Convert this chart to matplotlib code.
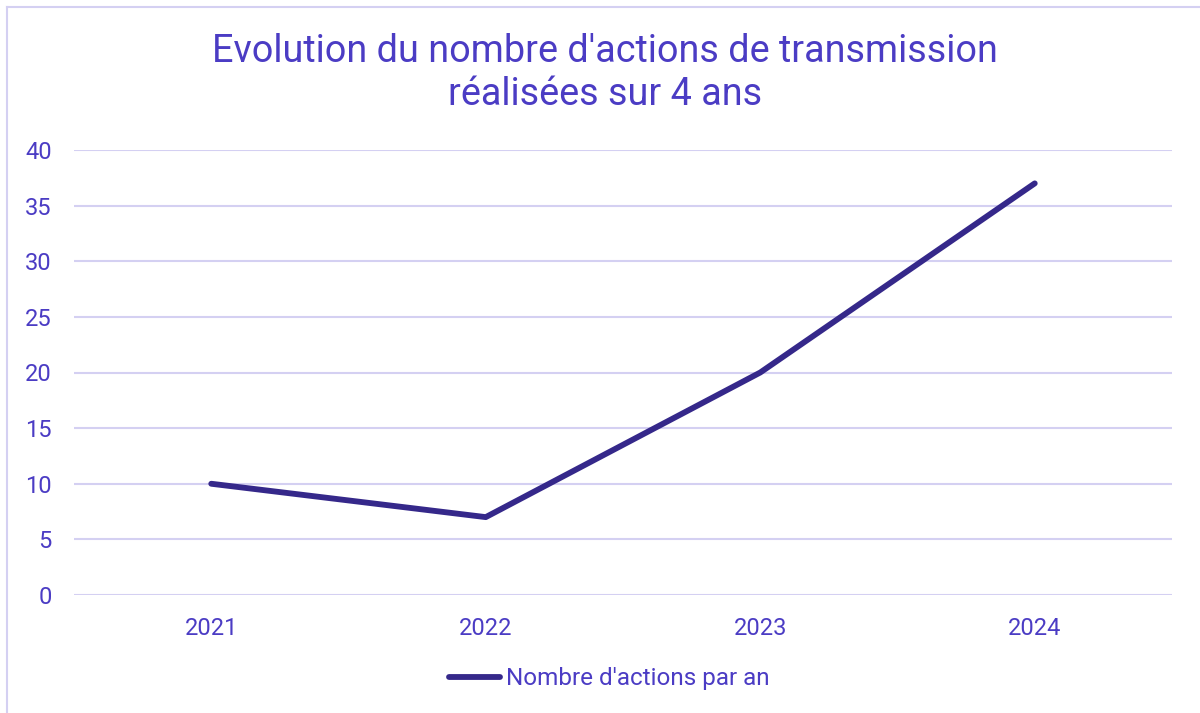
import matplotlib
matplotlib.use("Agg")
import matplotlib.pyplot as plt
from matplotlib.lines import Line2D

years = ["2021", "2022", "2023", "2024"]
actions = [10, 7, 20, 37]
yticks = [0, 5, 10, 15, 20, 25, 30, 35, 40]
title = "Evolution du nombre d'actions de transmission\nréalisées sur 4 ans"
series_name = "Nombre d'actions par an"

text_color = "#4B3CC4"
line_color = "#35288A"
grid_color = "#D4D0F2"

plt.rcParams['font.family'] = ['Roboto', 'DejaVu Sans']

W, H = 1200, 713
fig = plt.figure(figsize=(W / 100, H / 100), dpi=100)
ax = fig.add_axes([74 / W, 1 - 595 / H, (1172 - 74) / W, (595 - 150) / H])

x = list(range(len(years)))
ax.plot(x, actions, color=line_color, lw=4.2, solid_capstyle='round',
        solid_joinstyle='round', label=series_name)

ax.set_xlim(-0.5, len(years) - 0.5)
ax.set_ylim(0, 40)
ax.set_yticks(yticks)
ax.set_xticks(x)
ax.set_xticklabels(years)
ax.yaxis.grid(True, color=grid_color, lw=1.5)
ax.set_axisbelow(True)
for s in ax.spines.values():
    s.set_visible(False)
ax.tick_params(axis='both', length=0, labelsize=17, labelcolor=text_color)
ax.tick_params(axis='y', pad=16)
ax.tick_params(axis='x', pad=16)
for lbl in ax.get_yticklabels():
    lbl.set_horizontalalignment('right')

fig.text(605 / W, 1 - 73 / H, title, ha='center', va='center',
         fontsize=27.2, color=text_color, linespacing=1.22)

leg = ax.legend(handles=[Line2D([0], [0], color=line_color, lw=4.2, solid_capstyle='round')],
                labels=[series_name], loc='center', bbox_to_anchor=(609 / W, 1 - 679 / H),
                bbox_transform=fig.transFigure, frameon=False, fontsize=17.5,
                handlelength=2.1, handletextpad=0.25)
for t in leg.get_texts():
    t.set_color(text_color)

# frame lines (top and left)
fig.add_artist(Line2D([7 / W, 1], [1 - 7 / H, 1 - 7 / H], transform=fig.transFigure,
                      color=grid_color, lw=1.5))
fig.add_artist(Line2D([7 / W, 7 / W], [0, 1 - 7 / H], transform=fig.transFigure,
                      color=grid_color, lw=1.5))

fig.savefig("out.png", dpi=100)
